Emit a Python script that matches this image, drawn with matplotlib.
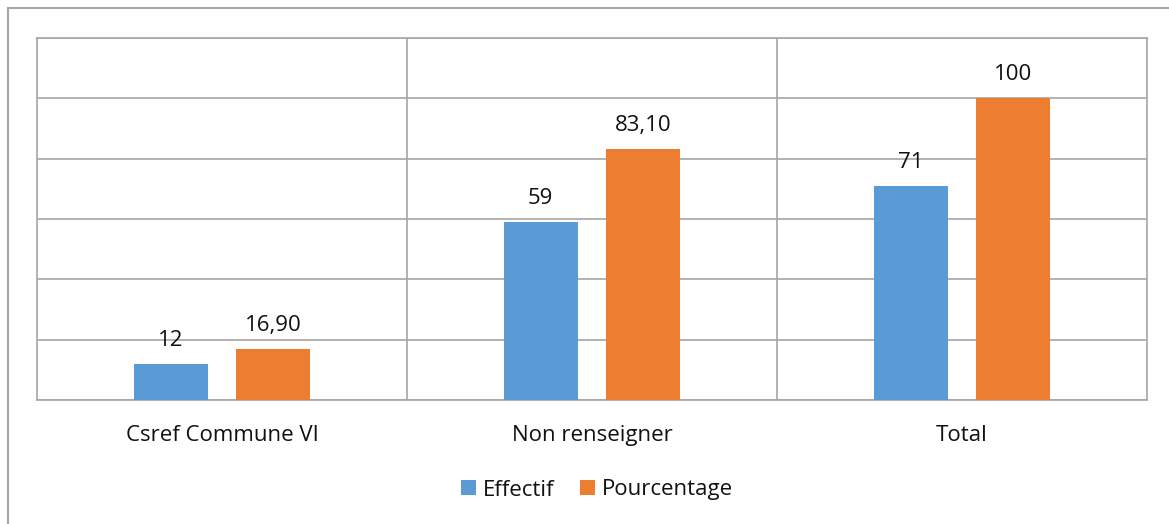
import numpy as np
import matplotlib.pyplot as plt
from matplotlib.patches import Rectangle

plt.rcParams['font.family'] = ['Open Sans', 'DejaVu Sans']

categories = ['Csref Commune VI', 'Non renseigner', 'Total']
effectif = [12, 59, 71]
pourcentage = [16.90, 83.10, 100]
effectif_labels = ['12', '59', '71']
pourcentage_labels = ['16,90', '83,10', '100']

blue = '#5b9bd5'
orange = '#ed7d31'
grid = '#a6a6a6'
txt = '#111111'
fs = 16

fig = plt.figure(figsize=(11.69, 5.24), dpi=100)
# outer chart frame
fig.patches.append(Rectangle((8 / 1169, -0.1), 1.2, (524 - 8) / 524 + 0.1,
                             transform=fig.transFigure, fill=False,
                             edgecolor=grid, linewidth=1.5))

ax = fig.add_axes([37 / 1169, (524 - 400) / 524, (1147 - 37) / 1169, (400 - 38) / 524])

x = np.arange(len(categories))
w = 0.2
off = 0.139
b1 = ax.bar(x - off, effectif, w, color=blue, label='Effectif', zorder=3)
b2 = ax.bar(x + off, pourcentage, w, color=orange, label='Pourcentage', zorder=3)

for bars, labels in ((b1, effectif_labels), (b2, pourcentage_labels)):
    for rect, lab in zip(bars, labels):
        ax.annotate(lab, (rect.get_x() + rect.get_width() / 2, rect.get_height()),
                    xytext=(0, 13), textcoords='offset points',
                    ha='center', va='baseline', fontsize=fs, color=txt)

ax.set_xlim(-0.5, len(categories) - 0.5)
ax.set_ylim(0, 120)
ax.set_yticks(np.arange(0, 121, 20))
ax.set_yticklabels([])
ax.set_xticks(x)
ax.set_xticklabels(categories, fontsize=fs, color=txt)
ax.set_xticks([0.5, 1.5], minor=True)
ax.tick_params(axis='both', which='both', length=0)
ax.tick_params(axis='x', which='major', pad=18)
ax.grid(axis='y', color=grid, linewidth=1.2, zorder=0)
ax.grid(axis='x', which='minor', color=grid, linewidth=1.2, zorder=0)
for s in ax.spines.values():
    s.set_color(grid)
    s.set_linewidth(1.2)

fig.legend(loc='center', bbox_to_anchor=(597 / 1169, 1 - 490 / 524), ncol=2,
           frameon=False, fontsize=fs, handlelength=0.68, handleheight=0.68,
           handletextpad=0.31, columnspacing=1.17, labelcolor=txt)

fig.savefig('out.png', dpi=100)
